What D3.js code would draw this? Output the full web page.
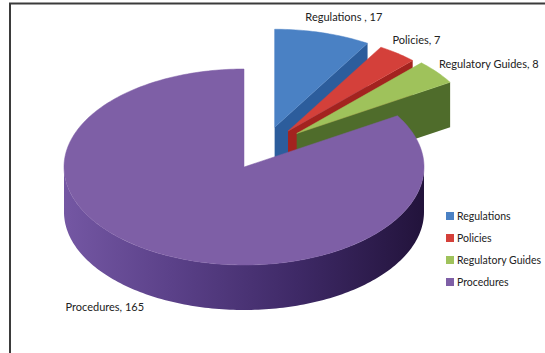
<!DOCTYPE html>
<html><head><meta charset="utf-8">
<script src="https://cdn.jsdelivr.net/npm/d3@7"></script>
<style>html,body{margin:0;padding:0;background:#fff;}svg{display:block;}</style>
</head><body>
<svg id="chart" width="545" height="353"></svg>
<script>
const categories = ["Regulations", "Policies", "Regulatory Guides", "Procedures"];
const values = [17, 7, 8, 165];
const labelSeparators = [" , ", ", ", ", ", ", "];

const topColors = ["#4a81c4", "#d4403a", "#9fc25b", "#7e5fa6"];
const wallColors = ["#2c5d9c", "#a3231f", "#4f6c2b", "#4a3275"];
const explode = [0.44, 0.44, 0.45, 0];
const labelOffsets = [[21, -16, "middle"], [-5, -13, "start"], [2, -8, "start"], [-12, 55, "end"]];

const W = 545, H = 353;
const cx = 244, cy = 167, rx = 180, ry = 98, depth = 45;

const svg = d3.select("#chart");
const defs = svg.append("defs");
const grad = defs.append("linearGradient").attr("id", "sideGrad")
  .attr("gradientUnits", "userSpaceOnUse").attr("x1", cx - rx).attr("x2", cx + rx).attr("y1", 0).attr("y2", 0);
[[0, "#7457a3"], [0.3, "#5b4189"], [0.65, "#3e2966"], [1, "#22133b"]].forEach(s =>
  grad.append("stop").attr("offset", s[0]).attr("stop-color", s[1]));

// frame
svg.append("rect").attr("x", 10).attr("y", 3.5).attr("width", 700).attr("height", 500)
  .attr("fill", "none").attr("stroke", "#3b3b3b").attr("stroke-width", 2);

const pie = d3.pie().sort(null).startAngle(0).endAngle(2 * Math.PI);
const arcs = pie(values).map((d, i) => {
  const mid = (d.startAngle + d.endAngle) / 2;
  const dir = mid * 0.5 + 15 * Math.PI / 180;
  const ox = explode[i] * rx * Math.sin(dir);
  const oy = -explode[i] * ry * Math.cos(dir);
  return Object.assign(d, { i, mid, ox, oy });
});

function P(a, theta, r, z) {
  return [cx + a.ox + rx * r * Math.sin(theta), cy + a.oy - ry * r * Math.cos(theta) + z];
}
function arcPts(a, t0, t1, z) {
  const n = Math.max(2, Math.ceil(Math.abs(t1 - t0) / 0.02));
  return d3.range(n + 1).map(k => P(a, t0 + (t1 - t0) * k / n, 1, z));
}
const line = d3.line();

const g = svg.append("g");
const order = arcs.slice().sort((a, b) => (-Math.cos(a.mid)) - (-Math.cos(b.mid)));

order.forEach(a => {
  const i = a.i;
  const lo = Math.max(a.startAngle, Math.PI / 2), hi = Math.min(a.endAngle, 3 * Math.PI / 2);
  if (hi > lo) {
    const pts = arcPts(a, lo, hi, 0).concat(arcPts(a, hi, lo, depth));
    g.append("path").attr("d", line(pts) + "Z")
      .attr("fill", i === 3 ? "url(#sideGrad)" : wallColors[i]);
  }
  const walls = [];
  if (Math.sin(a.endAngle) > 0.001) walls.push(a.endAngle);
  if (-Math.sin(a.startAngle) > 0.001) walls.push(a.startAngle);
  walls.forEach(t => {
    const pts = [P(a, t, 0, 0), P(a, t, 1, 0), P(a, t, 1, depth), P(a, t, 0, depth)];
    g.append("path").attr("d", line(pts) + "Z").attr("fill", wallColors[i]);
  });
  const topPts = [P(a, 0, 0, 0)].concat(arcPts(a, a.startAngle, a.endAngle, 0));
  g.append("path").attr("d", line(topPts) + "Z").attr("fill", topColors[i])
    .attr("stroke", topColors[i]).attr("stroke-width", 0.5);
});

const font = "Lato, 'Open Sans', sans-serif";
arcs.forEach(a => {
  const p = P(a, a.mid, 1, 0);
  const o = labelOffsets[a.i];
  svg.append("text").attr("x", p[0] + o[0]).attr("y", p[1] + o[1])
    .attr("dy", "0.35em").attr("text-anchor", o[2])
    .attr("font-family", font).attr("font-size", 11).attr("fill", "#222")
    .text(categories[a.i] + labelSeparators[a.i] + values[a.i]);
});

const legend = svg.append("g").attr("transform", "translate(446,216)");
categories.forEach((c, i) => {
  const row = legend.append("g").attr("transform", `translate(0,${i * 22})`);
  row.append("rect").attr("x", 0).attr("y", -4).attr("width", 8).attr("height", 8).attr("fill", topColors[i]);
  row.append("text").attr("x", 11).attr("y", 0).attr("dy", "0.35em")
    .attr("font-family", font).attr("font-size", 10.5).attr("fill", "#222").text(c);
});
</script>
</body></html>
